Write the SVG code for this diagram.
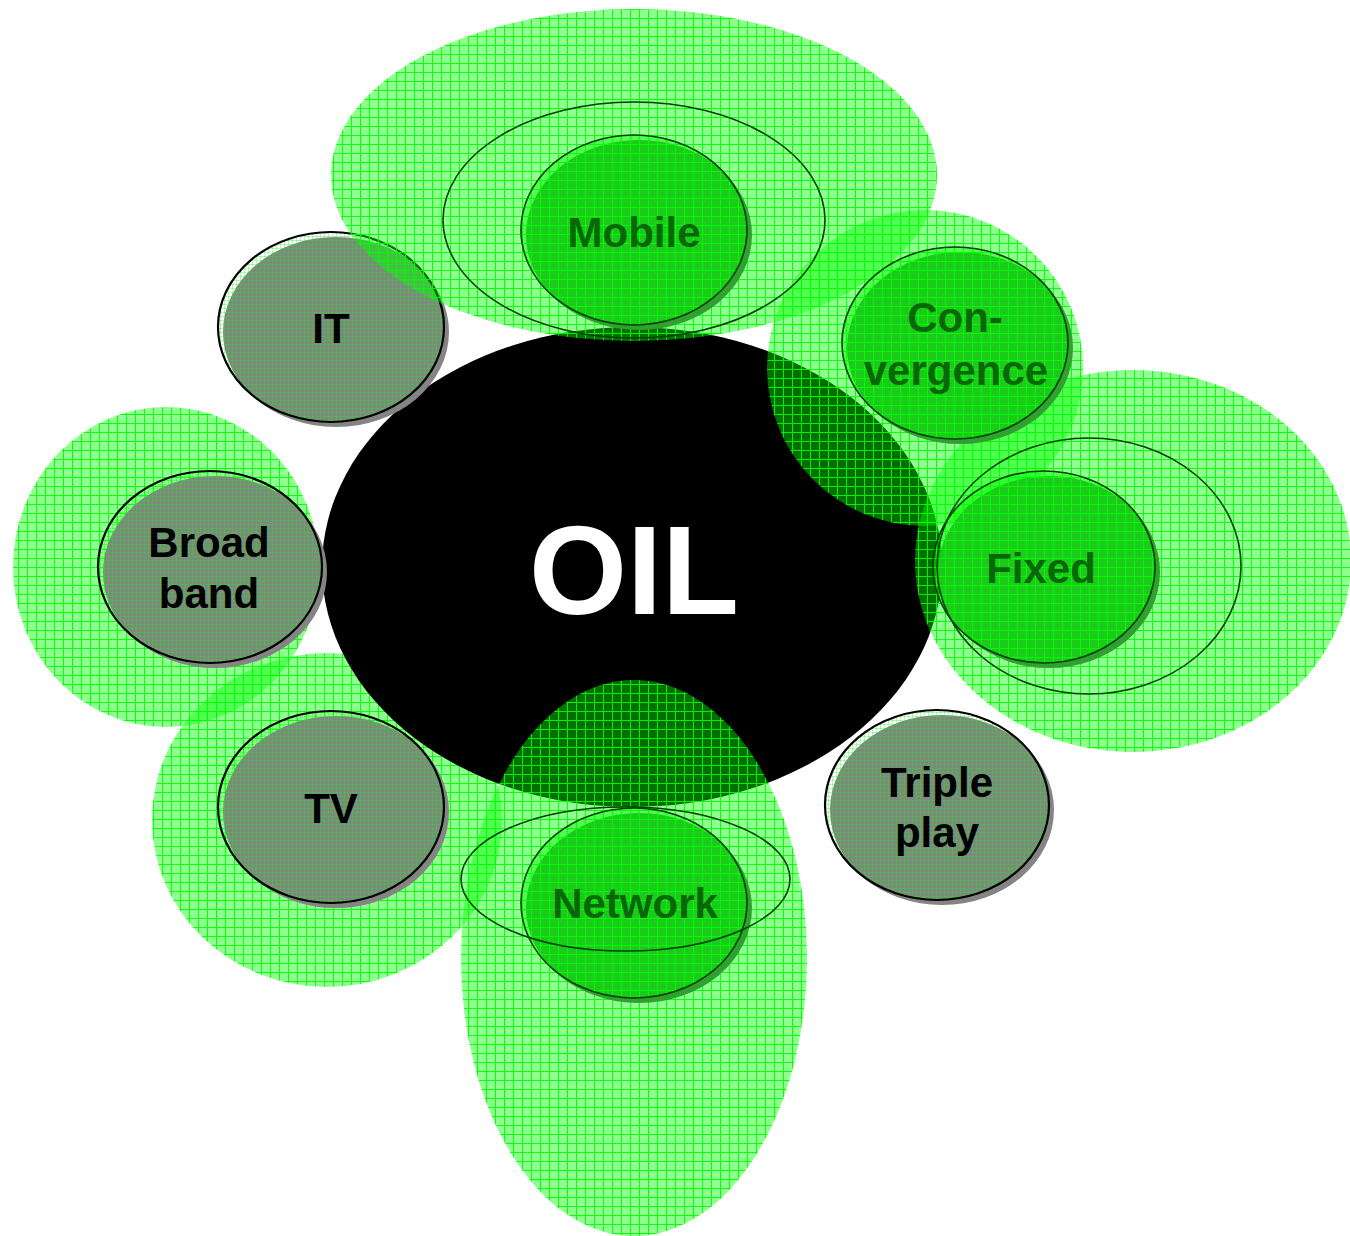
<svg xmlns="http://www.w3.org/2000/svg" width="1350" height="1236" viewBox="0 0 1350 1236">
<defs>
<pattern id="halo" width="9" height="9" patternUnits="userSpaceOnUse">
<rect width="9" height="9" fill="#00ff00" fill-opacity="0.44"/>
<path d="M0 0.5H9M0.5 0V9" stroke="#00ff00" stroke-opacity="0.9" stroke-width="1"/>
</pattern>
<pattern id="fine" width="4" height="4" patternUnits="userSpaceOnUse">
<path d="M0 0.5H4M0.5 0V4" stroke="#00ff00" stroke-opacity="0.32" stroke-width="1"/>
</pattern>
<style>
.halo{fill:url(#halo);}
.gshadow{fill:#848484;}
.gface{fill:url(#fine);stroke:#000;stroke-width:2.2;}
.nshadow{fill:#30a030;}
.nface{fill:url(#halo);stroke:#004000;stroke-width:1.6;}
.ring{fill:none;stroke:#004000;stroke-width:1.6;}
.lbl{font-family:"Liberation Sans",Arial,sans-serif;font-weight:bold;font-size:42px;fill:#000;text-anchor:middle;}
.glbl{font-family:"Liberation Sans",Arial,sans-serif;font-weight:bold;font-size:42px;fill:#086808;text-anchor:middle;}
</style>
</defs>
<rect width="1350" height="1236" fill="#fff"/>

<g id="halo-broadband"><ellipse class="halo" cx="166" cy="567" rx="153" ry="160"/></g>
<g id="halo-tv"><ellipse class="halo" cx="327" cy="820" rx="175" ry="167"/></g>

<g id="node-oil">
<ellipse cx="632" cy="567" rx="310" ry="240" fill="#000"/>
<text x="634" y="614" font-family="Liberation Sans, Arial, sans-serif" font-weight="bold" font-size="126" fill="#fff" text-anchor="middle">OIL</text>
</g>

<g id="node-it">
<ellipse class="gshadow" cx="336" cy="332" rx="113" ry="95"/>
<ellipse class="gface" cx="331" cy="327" rx="113" ry="95"/>
<text class="lbl" x="331" y="343">IT</text>
</g>
<g id="node-broadband">
<ellipse class="gshadow" cx="215" cy="572" rx="112" ry="96"/>
<ellipse class="gface" cx="210" cy="567" rx="112" ry="96"/>
<text class="lbl" x="209" y="557">Broad</text>
<text class="lbl" x="209" y="608">band</text>
</g>
<g id="node-tv">
<ellipse class="gshadow" cx="336" cy="812" rx="113" ry="96"/>
<ellipse class="gface" cx="331" cy="807" rx="113" ry="96"/>
<text class="lbl" x="331" y="823">TV</text>
</g>
<g id="node-tripleplay">
<ellipse class="gshadow" cx="942" cy="810" rx="112" ry="95"/>
<ellipse class="gface" cx="937" cy="805" rx="112" ry="95"/>
<text class="lbl" x="937" y="797">Triple</text>
<text class="lbl" x="937" y="847">play</text>
</g>

<g id="halo-mobile"><ellipse class="halo" cx="634" cy="175" rx="303" ry="166"/></g>
<g id="halo-convergence"><ellipse class="halo" cx="925" cy="368" rx="158" ry="158"/></g>
<g id="halo-fixed"><ellipse class="halo" cx="1133" cy="561" rx="218" ry="191"/></g>
<g id="halo-network"><ellipse class="halo" cx="634" cy="958" rx="173" ry="278"/></g>

<g id="node-mobile">
<ellipse class="nshadow" cx="639" cy="235" rx="113" ry="95"/>
<ellipse class="nface" cx="634" cy="230" rx="113" ry="95"/>
<text class="glbl" x="634" y="247">Mobile</text>
</g>
<g id="node-convergence">
<ellipse class="nshadow" cx="960" cy="348" rx="113" ry="96"/>
<ellipse class="nface" cx="955" cy="343" rx="113" ry="96"/>
<text class="glbl" x="955" y="332">Con-</text>
<text class="glbl" x="956" y="385">vergence</text>
</g>
<g id="node-fixed">
<ellipse class="nshadow" cx="1049" cy="572" rx="111" ry="96"/>
<ellipse class="nface" cx="1044" cy="567" rx="111" ry="96"/>
<text class="glbl" x="1041" y="583">Fixed</text>
</g>
<g id="node-network">
<ellipse class="nshadow" cx="639" cy="908" rx="113" ry="95"/>
<ellipse class="nface" cx="634" cy="903" rx="113" ry="95"/>
<text class="glbl" x="635" y="918">Network</text>
</g>

<g id="rings">
<ellipse class="ring" cx="634" cy="220" rx="191" ry="118"/>
<ellipse class="ring" cx="1089" cy="566" rx="152" ry="128"/>
<ellipse class="ring" cx="625.5" cy="879" rx="164.5" ry="72"/>
</g>
</svg>
